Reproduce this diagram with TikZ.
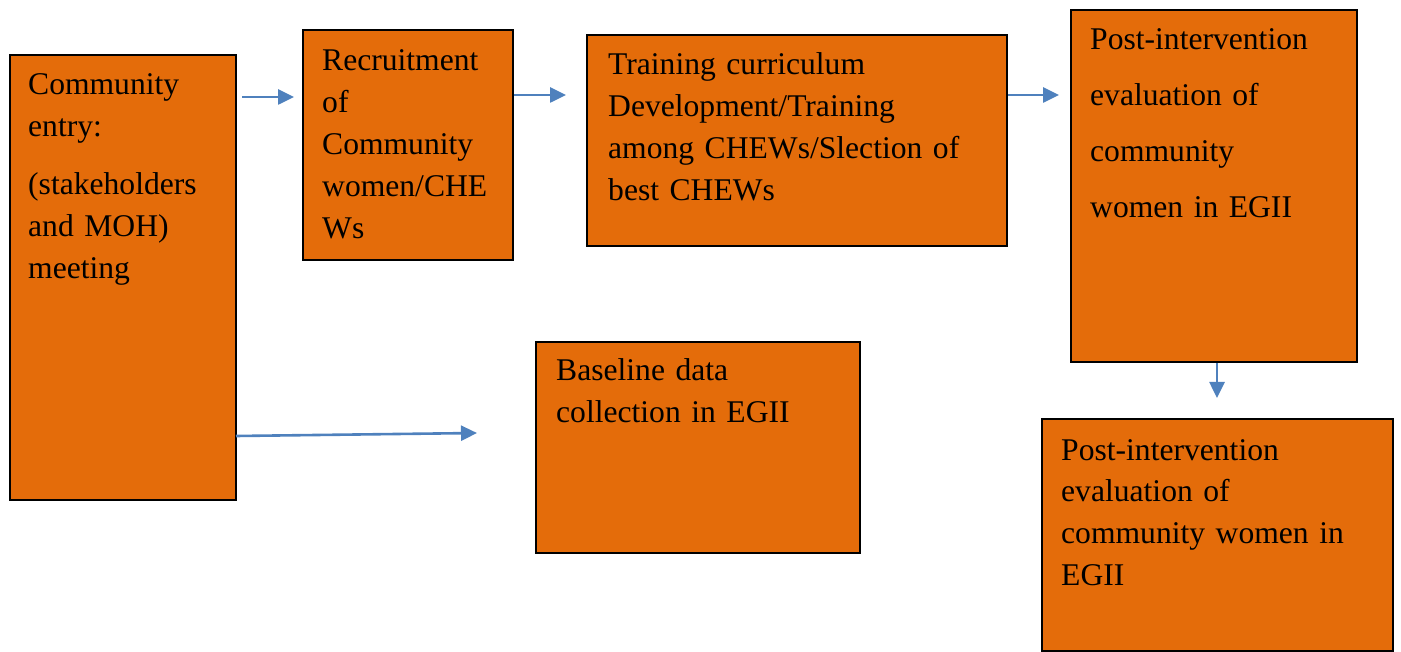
\documentclass[tikz,border=0pt]{standalone}
\usepackage{fontspec}
\setmainfont{Liberation Serif}
\usetikzlibrary{arrows.meta}
\definecolor{boxorange}{HTML}{E46C0A}
\definecolor{flowblue}{HTML}{4F81BD}
\begin{document}
\begin{tikzpicture}[x=1pt,y=-1pt,
  stagebox/.style={draw=black,line width=1.6pt,fill=boxorange,inner sep=0pt,anchor=north west},
  label/.style={inner sep=0pt,anchor=base west,align=left,text width=420pt,
    font=\fontsize{31.6}{42}\selectfont},
  flow/.style={draw=flowblue,line width=2.6pt,-{Triangle[length=16pt,width=15pt]}}]
\useasboundingbox (0,0) rectangle (1401,652);

% stage boxes
\node[stagebox,minimum width=226pt,minimum height=445pt] (entry) at (9,54) {};
\node[stagebox,minimum width=210pt,minimum height=230pt] (recruit) at (302,29) {};
\node[stagebox,minimum width=420pt,minimum height=211pt] (training) at (586,34) {};
\node[stagebox,minimum width=286pt,minimum height=352pt] (posta) at (1070,9) {};
\node[stagebox,minimum width=324pt,minimum height=211pt] (baseline) at (535,341) {};
\node[stagebox,minimum width=351pt,minimum height=232pt] (postb) at (1041,418) {};

% box texts
\node[label] (entrytxt) at ([shift={(19,41)}]entry.north west)
  {Community\\entry:\\[16pt](stakeholders\\and MOH)\\meeting};
\node[label] (recruittxt) at ([shift={(20,42)}]recruit.north west)
  {Recruitment\\of\\Community\\women/CHE\\Ws};
\node[label] (trainingtxt) at ([shift={(22,41)}]training.north west)
  {Training curriculum\\Development/Training\\among CHEWs/Slection of\\best CHEWs};
\node[label,font=\fontsize{31.6}{55.7}\selectfont] (postatxt) at ([shift={(20,41)}]posta.north west)
  {Post-intervention\\evaluation of\\community\\women in EGII};
\node[label] (baselinetxt) at ([shift={(21,40)}]baseline.north west)
  {Baseline data\\collection in EGII};
\node[label] (postbtxt) at ([shift={(20,42)}]postb.north west)
  {Post-intervention\\evaluation of\\community women in\\EGII};

% connector ends
\coordinate (e1) at (242,97);   \coordinate (r1) at (294,97);
\coordinate (r2) at (514,95);   \coordinate (t1) at (566,95);
\coordinate (t2) at (1008,95);  \coordinate (p1) at (1059,95);
\coordinate (p2) at (1217,363); \coordinate (q1) at (1217,398);
\coordinate (e2) at (236,436);  \coordinate (b1) at (477,433);

% connectors
\draw[flow] (e1) -- (r1);
\draw[flow] (r2) -- (t1);
\draw[flow] (t2) -- (p1);
\draw[flow] (p2) -- (q1);
\draw[flow] (e2) -- (b1);
\end{tikzpicture}
\end{document}
